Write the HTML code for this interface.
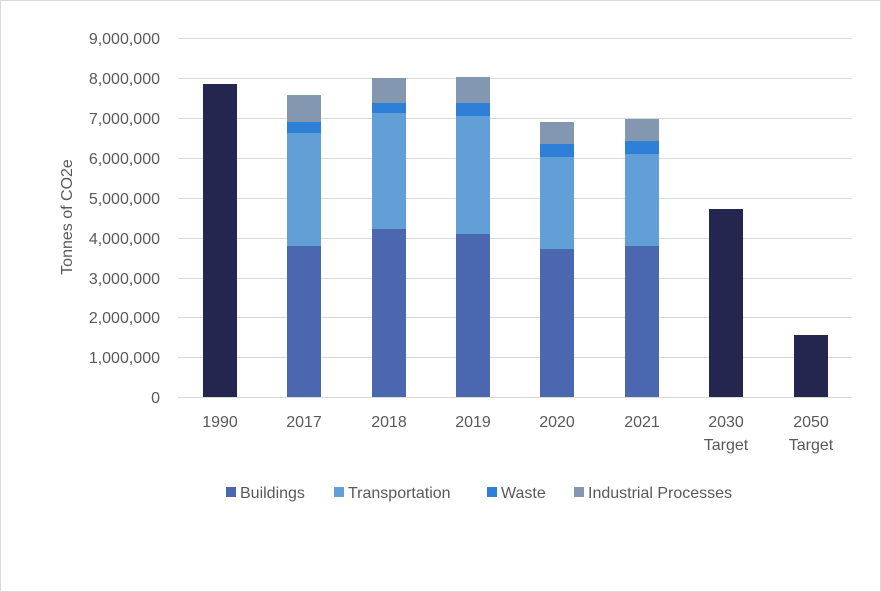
<!DOCTYPE html>
<html><head><meta charset="utf-8"><style>
html,body{margin:0;padding:0;background:#fff;}
svg{display:block;font-family:"Liberation Sans",Arial,sans-serif;}
</style></head><body>
<svg width="881" height="592" viewBox="0 0 881 592" xmlns="http://www.w3.org/2000/svg">
<rect x="0.5" y="0.5" width="880" height="591" fill="#fff" stroke="#d9d9d9"/>
<g stroke="#d9d9d9" stroke-width="1">
<line x1="178" x2="852" y1="38.5" y2="38.5"/>
<line x1="178" x2="852" y1="78.5" y2="78.5"/>
<line x1="178" x2="852" y1="118.5" y2="118.5"/>
<line x1="178" x2="852" y1="158.5" y2="158.5"/>
<line x1="178" x2="852" y1="198.5" y2="198.5"/>
<line x1="178" x2="852" y1="238.5" y2="238.5"/>
<line x1="178" x2="852" y1="278.5" y2="278.5"/>
<line x1="178" x2="852" y1="317.5" y2="317.5"/>
<line x1="178" x2="852" y1="357.5" y2="357.5"/>
<line x1="178" x2="852" y1="397.5" y2="397.5"/>
</g>
<g font-size="16" fill="#595959" text-anchor="end">
<text x="160" y="44">9,000,000</text>
<text x="160" y="84">8,000,000</text>
<text x="160" y="124">7,000,000</text>
<text x="160" y="164">6,000,000</text>
<text x="160" y="204">5,000,000</text>
<text x="160" y="244">4,000,000</text>
<text x="160" y="284">3,000,000</text>
<text x="160" y="323">2,000,000</text>
<text x="160" y="363">1,000,000</text>
<text x="160" y="403">0</text>
</g>
<text transform="translate(72,217) rotate(-90)" font-size="16" fill="#595959" text-anchor="middle">Tonnes of CO2e</text>
<!-- bars -->
<rect x="203" y="84" width="34" height="313" fill="#24264f"/>
<g>
<rect x="287" y="246" width="34" height="151" fill="#4a67b0"/>
<rect x="287" y="133" width="34" height="113" fill="#619fd6"/>
<rect x="287" y="122" width="34" height="11" fill="#2e7fd8"/>
<rect x="287" y="95" width="34" height="27" fill="#8497b0"/>
</g>
<g>
<rect x="372" y="229" width="34" height="168" fill="#4a67b0"/>
<rect x="372" y="113" width="34" height="116" fill="#619fd6"/>
<rect x="372" y="103" width="34" height="10" fill="#2e7fd8"/>
<rect x="372" y="78" width="34" height="25" fill="#8497b0"/>
</g>
<g>
<rect x="456" y="234" width="34" height="163" fill="#4a67b0"/>
<rect x="456" y="116" width="34" height="118" fill="#619fd6"/>
<rect x="456" y="103" width="34" height="13" fill="#2e7fd8"/>
<rect x="456" y="77" width="34" height="26" fill="#8497b0"/>
</g>
<g>
<rect x="540" y="249" width="34" height="148" fill="#4a67b0"/>
<rect x="540" y="157" width="34" height="92" fill="#619fd6"/>
<rect x="540" y="144" width="34" height="13" fill="#2e7fd8"/>
<rect x="540" y="122" width="34" height="22" fill="#8497b0"/>
</g>
<g>
<rect x="625" y="246" width="34" height="151" fill="#4a67b0"/>
<rect x="625" y="154" width="34" height="92" fill="#619fd6"/>
<rect x="625" y="141" width="34" height="13" fill="#2e7fd8"/>
<rect x="625" y="119" width="34" height="22" fill="#8497b0"/>
</g>
<rect x="709" y="209" width="34" height="188" fill="#24264f"/>
<rect x="794" y="335" width="34" height="62" fill="#24264f"/>
<g font-size="16" fill="#595959" text-anchor="middle">
<text x="220" y="427">1990</text>
<text x="304" y="427">2017</text>
<text x="389" y="427">2018</text>
<text x="473" y="427">2019</text>
<text x="557" y="427">2020</text>
<text x="642" y="427">2021</text>
<text x="726" y="427">2030</text>
<text x="726" y="450">Target</text>
<text x="811" y="427">2050</text>
<text x="811" y="450">Target</text>
</g>
<g font-size="16" fill="#595959">
<rect x="226" y="487" width="10" height="10" fill="#4a67b0"/>
<text x="240" y="498">Buildings</text>
<rect x="334" y="487" width="10" height="10" fill="#619fd6"/>
<text x="348" y="498">Transportation</text>
<rect x="487" y="487" width="10" height="10" fill="#2e7fd8"/>
<text x="501" y="498">Waste</text>
<rect x="574" y="487" width="10" height="10" fill="#8497b0"/>
<text x="588" y="498">Industrial Processes</text>
</g>
</svg>
</body></html>
